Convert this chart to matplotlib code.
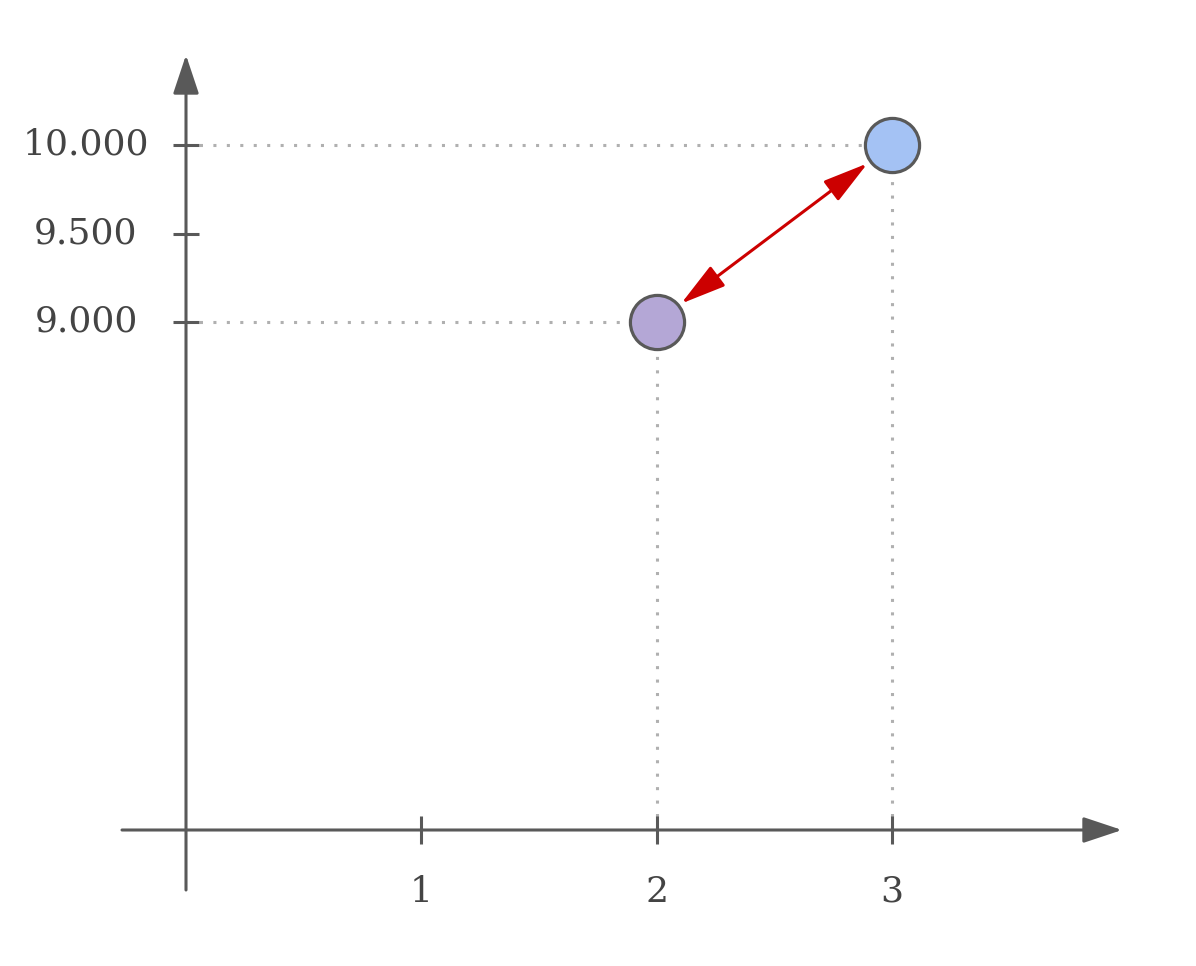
"""
Two points on a broken-style axis with a double arrow between them.
"""

import matplotlib.pyplot as plt

# data
x_ticks = [1, 2, 3]
y_ticks = [9000, 9500, 10000]
y_tick_labels = ['9.000', '9.500', '10.000']
point_x = [2, 3]
point_y = [9000, 10000]
point_colors = ['#b4a7d6', '#a4c2f4']

AXIS_COLOR = '#595959'
TEXT_COLOR = '#444444'
GUIDE_COLOR = '#b0b0b0'
ARROW_COLOR = '#cc0000'

W, H = 1196, 966
fig = plt.figure(figsize=(W / 100, H / 100), dpi=100)
ax = fig.add_axes([0, 0, 1, 1])
ax.axis('off')

# pixel layout of the reference: x=0 at 186px, 235.3px per unit;
# y=9000 at 644px from bottom, 177px per 1000
px_x = 235.33
x0 = -186 / px_x
ax.set_xlim(x0, x0 + W / px_x)
py = 1000 / 177
y0 = 9000 - 644 * py
ax.set_ylim(y0, y0 + H * py)

x_axis_y = y0 + (H - 830) * py
font = dict(family='DejaVu Serif', size=26, color=TEXT_COLOR)

# axes with arrow heads
axis_arrow = dict(arrowstyle='-|>,head_length=1.2,head_width=0.4',
                  color=AXIS_COLOR, lw=2.2, mutation_scale=20,
                  shrinkA=0, shrinkB=0)
ax.annotate('', xy=(x0 + 1122 / px_x, x_axis_y), xytext=(x0 + 122 / px_x, x_axis_y),
            arrowprops=axis_arrow, zorder=2)
ax.annotate('', xy=(0, y0 + (H - 55) * py), xytext=(0, y0 + (H - 890) * py),
            arrowprops=axis_arrow, zorder=2)

# ticks and labels
tick_half_x = 13 / px_x
tick_half_y = 14 * py
for xv in x_ticks:
    ax.plot([xv, xv], [x_axis_y - tick_half_y, x_axis_y + tick_half_y],
            color=AXIS_COLOR, lw=2.2, solid_capstyle='butt', zorder=3)
    ax.text(xv, x_axis_y - 62 * py, str(xv), ha='center', va='center', **font)
for yv, lab in zip(y_ticks, y_tick_labels):
    ax.plot([-tick_half_x, tick_half_x], [yv, yv],
            color=AXIS_COLOR, lw=2.2, solid_capstyle='butt', zorder=3)
    ax.text(-100 / px_x, yv, lab, ha='center', va='center', **font)

# dotted guide lines
for xv, yv in zip(point_x, point_y):
    ax.plot([0, xv], [yv, yv], color=GUIDE_COLOR, lw=2.2, ls=(0, (1, 3.4)), zorder=1)
    ax.plot([xv, xv], [x_axis_y, yv], color=GUIDE_COLOR, lw=2.2, ls=(0, (1, 3.4)), zorder=1)

# points
for xv, yv, c in zip(point_x, point_y, point_colors):
    ax.plot(xv, yv, 'o', ms=39, mfc=c, mec=AXIS_COLOR, mew=2.3, zorder=4)

# double arrow between points
ax.annotate('', xy=(point_x[1], point_y[1]), xytext=(point_x[0], point_y[0]),
            arrowprops=dict(arrowstyle='<|-|>,head_length=1.4,head_width=0.38',
                            color=ARROW_COLOR, lw=2.2, mutation_scale=20,
                            shrinkA=22, shrinkB=22), zorder=5)

fig.savefig('out.png', dpi=100)
